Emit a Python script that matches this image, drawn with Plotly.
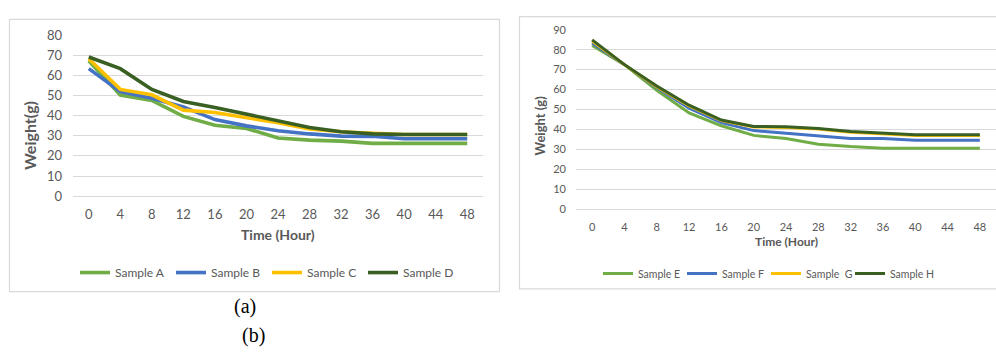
import plotly.graph_objects as go

W, H = 996, 356

hours = [0, 4, 8, 12, 16, 20, 24, 28, 32, 36, 40, 44, 48]

sample_a = [67.2, 50.2, 47.5, 39.6, 35.2, 33.6, 28.9, 27.8, 27.3, 26.2, 26.2, 26.2, 26.2]
sample_b = [63.3, 51.9, 48.6, 44.3, 38.0, 34.9, 32.5, 30.9, 29.8, 29.7, 28.5, 28.5, 28.5]
sample_c = [68.2, 53.0, 50.3, 42.7, 41.5, 39.1, 36.4, 33.3, 32.0, 31.2, 30.6, 30.6, 30.6]
sample_d = [69.1, 63.3, 53.0, 47.0, 44.0, 40.7, 37.7, 34.1, 32.0, 30.9, 30.6, 30.6, 30.6]

sample_e = [82.1, 72.5, 59.7, 48.3, 41.9, 37.1, 35.5, 32.7, 31.5, 30.7, 30.7, 30.7, 30.7]
sample_f = [83.3, 72.5, 61.0, 50.7, 43.5, 39.5, 38.2, 36.7, 35.5, 35.5, 34.7, 34.7, 34.7]
sample_g = [84.3, 72.5, 61.5, 51.9, 44.5, 41.3, 41.1, 40.3, 38.7, 37.9, 37.1, 37.1, 37.1]
sample_h = [84.9, 72.5, 61.8, 52.2, 44.8, 41.6, 41.4, 40.6, 39.0, 38.2, 37.4, 37.4, 37.4]

names_left = ["Sample A", "Sample B", "Sample C", "Sample D"]
names_right = ["Sample E", "Sample F", "Sample\u00a0 G", "Sample H"]
colors = ["#70AD47", "#4472C4", "#FFC000", "#3A5F23"]

FONT = "Lato"
TXT = "#595959"
GRID = "#D9D9D9"


def px_x(p):
    return p / W


def px_y(p):
    return 1 - p / H


fig = go.Figure()

for name, vals, col in zip(names_left, [sample_a, sample_b, sample_c, sample_d], colors):
    fig.add_trace(go.Scatter(x=hours, y=vals, name=name, mode="lines",
                             line=dict(color=col, width=3.6),
                             xaxis="x", yaxis="y", legend="legend"))

for name, vals, col in zip(names_right, [sample_e, sample_f, sample_g, sample_h], colors):
    fig.add_trace(go.Scatter(x=hours, y=vals, name=name, mode="lines",
                             line=dict(color=col, width=3),
                             xaxis="x2", yaxis="y2", legend="legend2"))

xaxis_common = dict(range=[-2, 50], tickmode="array", tickvals=hours,
                    showgrid=False, zeroline=False, showline=False, ticks="",
                    fixedrange=True)

fig.update_layout(
    width=W, height=H,
    margin=dict(l=0, r=0, t=0, b=0),
    paper_bgcolor="white", plot_bgcolor="white",
    showlegend=True,
    xaxis=dict(domain=[px_x(73), px_x(483)], anchor="y",
               tickfont=dict(family=FONT, size=13, color=TXT),
               ticklabelstandoff=9, **xaxis_common),
    yaxis=dict(domain=[px_y(197), px_y(28.3)], anchor="x", range=[0, 80],
               dtick=10, showgrid=True, gridcolor=GRID, gridwidth=1,
               zeroline=True, zerolinecolor=GRID, zerolinewidth=1,
               ticks="", ticklabelstandoff=10,
               tickfont=dict(family=FONT, size=13, color=TXT)),
    xaxis2=dict(domain=[px_x(576), 1.0], anchor="y2",
                tickfont=dict(family=FONT, size=11, color=TXT),
                ticklabelstandoff=9, **xaxis_common),
    yaxis2=dict(domain=[px_y(211), px_y(22.7)], anchor="x2", range=[0, 90],
                dtick=10, showgrid=True, gridcolor=GRID, gridwidth=1,
                zeroline=True, zerolinecolor=GRID, zerolinewidth=1,
                ticks="", ticklabelstandoff=9,
                tickfont=dict(family=FONT, size=11, color=TXT)),
    legend=dict(orientation="h", x=px_x(75), y=px_y(277), xanchor="left", yanchor="middle",
                font=dict(family=FONT, size=12, color=TXT), bgcolor="rgba(0,0,0,0)",
                itemwidth=30, entrywidth=51, traceorder="normal"),
    legend2=dict(orientation="h", x=px_x(598), y=px_y(278), xanchor="left", yanchor="middle",
                 font=dict(family=FONT, size=10.5, color=TXT), bgcolor="rgba(0,0,0,0)",
                 itemwidth=30, entrywidth=39, traceorder="normal"),
    shapes=[
        dict(type="rect", xref="paper", yref="paper",
             x0=px_x(9.5), x1=px_x(499.5), y0=px_y(297), y1=px_y(12),
             line=dict(color=GRID, width=1.2), layer="below"),
        dict(type="rect", xref="paper", yref="paper",
             x0=px_x(519.5), x1=px_x(1010), y0=px_y(294), y1=px_y(9),
             line=dict(color=GRID, width=1.2), layer="below"),
    ],
    annotations=[
        dict(text="<b>Weight(g)</b>", xref="paper", yref="paper", x=px_x(30), y=px_y(134),
             textangle=-90, showarrow=False, xanchor="center", yanchor="middle",
             font=dict(family=FONT, size=16, color=TXT)),
        dict(text="<b>Time (Hour)</b>", xref="paper", yref="paper", x=px_x(278), y=px_y(237),
             showarrow=False, xanchor="center", yanchor="middle",
             font=dict(family=FONT, size=14, color=TXT)),
        dict(text="<b>Weight (g)</b>", xref="paper", yref="paper", x=px_x(540), y=px_y(123),
             textangle=-90, showarrow=False, xanchor="center", yanchor="middle",
             font=dict(family=FONT, size=13, color=TXT)),
        dict(text="<b>Time (Hour)</b>", xref="paper", yref="paper", x=px_x(786), y=px_y(244),
             showarrow=False, xanchor="center", yanchor="middle",
             font=dict(family=FONT, size=12, color=TXT)),
        dict(text="(a)", xref="paper", yref="paper", x=px_x(245), y=px_y(313),
             showarrow=False, xanchor="center", yanchor="middle",
             font=dict(family="Liberation Serif", size=20, color="black")),
        dict(text="(b)", xref="paper", yref="paper", x=px_x(253), y=px_y(343),
             showarrow=False, xanchor="center", yanchor="middle",
             font=dict(family="Liberation Serif", size=20, color="black")),
    ],
)

fig.write_html("out.html",
               config={"displayModeBar": False},
               post_script="document.body.style.margin='0';document.body.style.overflow='hidden';")
